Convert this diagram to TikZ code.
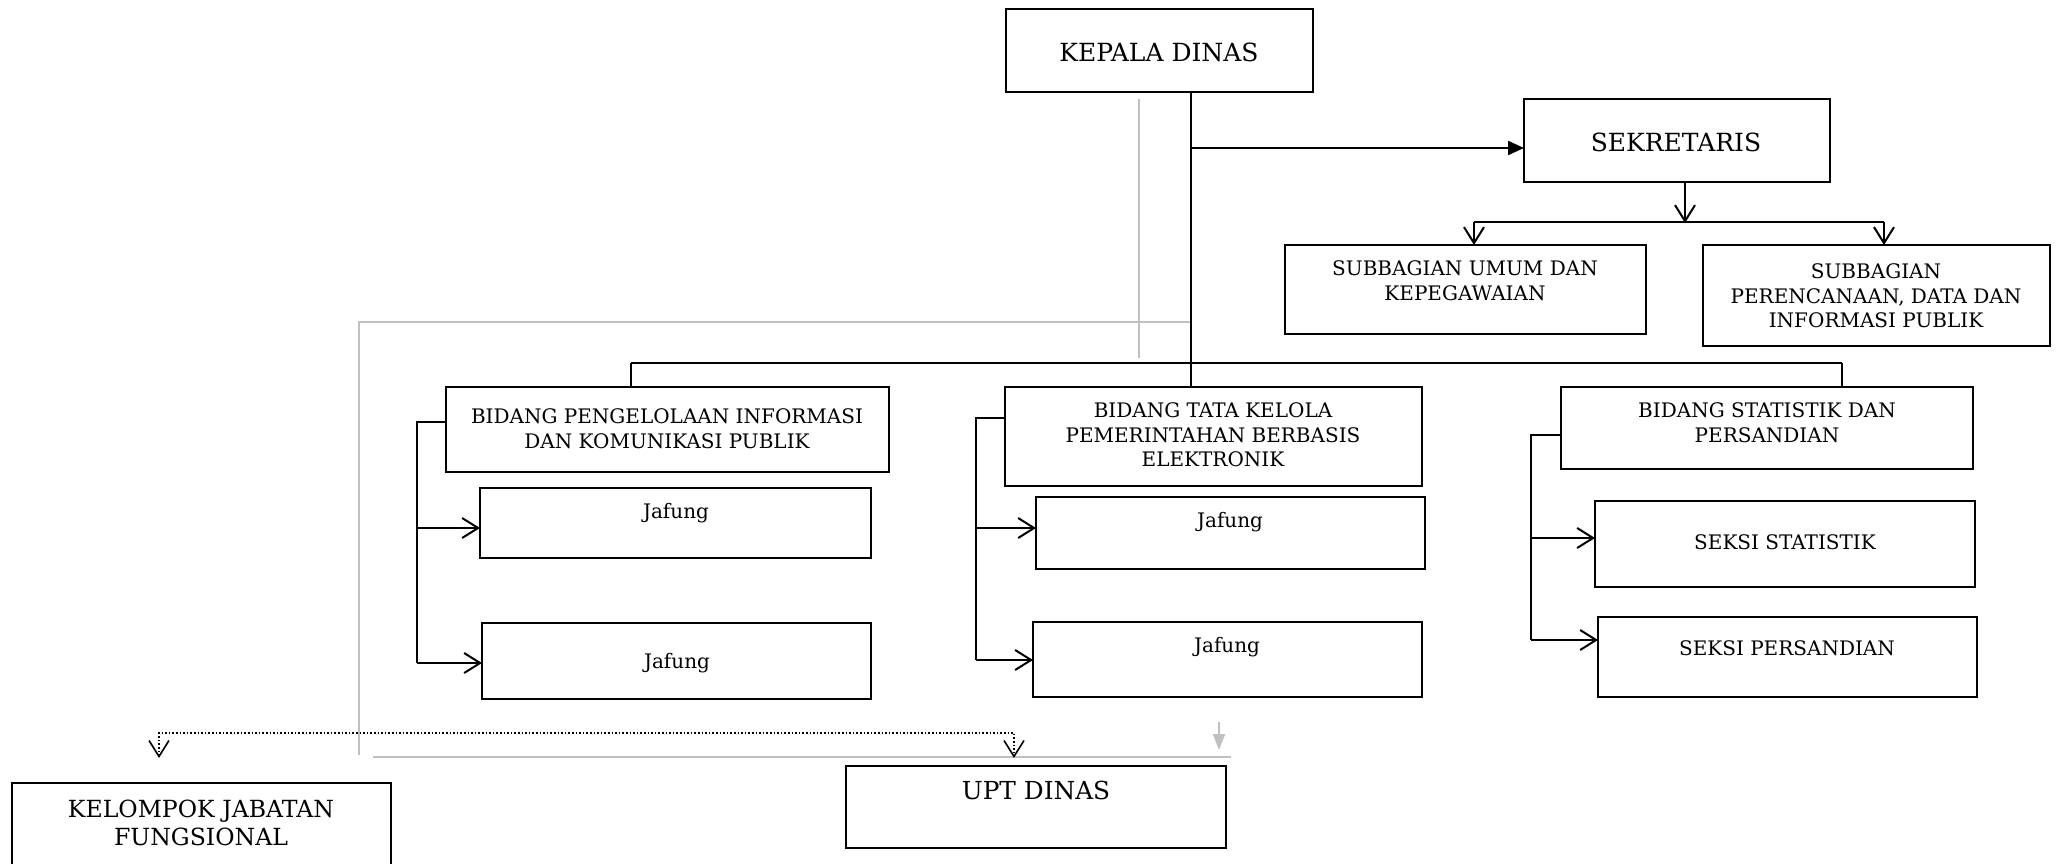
\documentclass[tikz,border=0pt]{standalone}
\usepackage{fontspec}
\setmainfont{DejaVu Serif}
\usetikzlibrary{arrows.meta}
\definecolor{glin}{HTML}{C0C0C0}
\newcommand\orgbox[5]{\node[box, minimum width={(#4-#2)*0.5pt}, minimum height={(#5-#3)*0.5pt}] (#1) at ({(#2+#4)/2},{(#3+#5)/2}) {};}
\begin{document}
\begin{tikzpicture}[x=0.5pt,y=-0.5pt,
  box/.style={draw, line width=1pt, inner sep=0pt, outer sep=0pt},
  txt/.style={align=center, inner sep=0pt, font=\fontsize{10}{12.3}\selectfont},
  big/.style={txt, font=\fontsize{12.5}{15}\selectfont},
  mid/.style={txt, font=\fontsize{11.8}{14}\selectfont},
  ln/.style={line width=1pt},
  barb/.style={ln, -{Straight Barb[length=8pt,width=10pt]}},
  gl/.style={draw=glin, line width=1pt},
  dotl/.style={line width=0.8pt, densely dotted}]
\useasboundingbox (0,0) rectangle (2056,863);
\clip (0,0) rectangle (2056,863);
% boxes
\orgbox{k}{1006}{9}{1313}{92}
\orgbox{s}{1524}{99}{1830}{182}
\orgbox{su}{1285}{245}{1646}{334}
\orgbox{sp}{1703}{245}{2050}{346}
\orgbox{b1}{446}{387}{889}{472}
\orgbox{j1}{480}{488}{871}{558}
\orgbox{j2}{482}{623}{871}{699}
\orgbox{b2}{1005}{387}{1422}{486}
\orgbox{j3}{1036}{497}{1425}{569}
\orgbox{j4}{1033}{622}{1422}{697}
\orgbox{b3}{1561}{387}{1973}{469}
\orgbox{ss}{1595}{501}{1975}{587}
\orgbox{sd}{1598}{617}{1977}{697}
\orgbox{kj}{12}{783}{391}{920}
\orgbox{u}{846}{766}{1226}{848}
% texts
\node[big] (tk) at (1159,52) {KEPALA DINAS};
\node[big] (ts) at (1676,142) {SEKRETARIS};
\node[txt] (tsu) at (1465,281) {SUBBAGIAN UMUM DAN\\KEPEGAWAIAN};
\node[txt] (tsp) at (1876,296) {SUBBAGIAN\\PERENCANAAN, DATA DAN\\INFORMASI PUBLIK};
\node[txt] (tb1) at (667,429) {BIDANG PENGELOLAAN INFORMASI\\DAN KOMUNIKASI PUBLIK};
\node[txt] (tj1) at (676,513) {Jafung};
\node[txt] (tj2) at (677,663) {Jafung};
\node[txt] (tb2) at (1213,435) {BIDANG TATA KELOLA\\PEMERINTAHAN BERBASIS\\ELEKTRONIK};
\node[txt] (tj3) at (1230,522) {Jafung};
\node[txt] (tj4) at (1227,647) {Jafung};
\node[txt] (tb3) at (1767,423) {BIDANG STATISTIK DAN\\PERSANDIAN};
\node[txt] (tss) at (1785,542) {SEKSI STATISTIK};
\node[txt] (tsd) at (1787,648) {SEKSI PERSANDIAN};
\node[mid] (tkj) at (201,823) {KELOMPOK JABATAN\\FUNGSIONAL};
\node[mid, font=\fontsize{12.4}{14}\selectfont] (tu) at (1036,790) {UPT DINAS};
% gray lines
\coordinate (g1) at (1139,99);
\coordinate (g2) at (1139,358);
\coordinate (g3) at (1191,322);
\coordinate (g4) at (359,322);
\coordinate (g5) at (359,755);
\coordinate (g6) at (373,757);
\coordinate (g7) at (1231,757);
\coordinate (g8) at (1219,722);
\coordinate (g9) at (1219,750);
\draw[gl] (g1) -- (g2);
\draw[gl] (g3) -- (g4) -- (g5);
\draw[gl] (g6) -- (g7);
\draw[gl, -{Triangle[length=8pt,width=6pt]}, fill=glin] (g8) -- (g9);
% trunk
\coordinate (t1) at (1191,148);
\coordinate (hb) at (1191,363);
\draw[ln] (k.south -| t1) -- (hb);
\draw[ln, -{Triangle[length=8pt,width=7pt]}] (t1) -- (t1 -| s.west);
% sekretaris branch
\coordinate (sj) at (1685,223);
\coordinate (sl) at (1474,222);
\coordinate (sr) at (1884,222);
\draw[barb] (s.south -| sj) -- (sj);
\draw[ln] (sl) -- (sr);
\draw[barb] (sl) -- (sl |- su.north);
\draw[barb] (sr) -- (sr |- sp.north);
% bidang branch
\coordinate (b1j) at (631,363);
\coordinate (b3j) at (1842,363);
\draw[ln] (b1j) -- (b3j);
\draw[ln] (b1j) -- (b1j |- b1.north);
\draw[ln] (hb) -- (hb |- b2.north);
\draw[ln] (b3j) -- (b3j |- b3.north);
% bracket 1
\coordinate (c1) at (417,422);
\coordinate (a1) at (417,528);
\coordinate (a2) at (417,663);
\draw[ln] (c1 -| b1.west) -- (c1) -- (a2);
\draw[barb] (a1) -- (a1 -| j1.west);
\draw[barb] (a2) -- (a2 -| j2.west);
% bracket 2
\coordinate (c2) at (976,418);
\coordinate (a3) at (976,528);
\coordinate (a4) at (976,660);
\draw[ln] (c2 -| b2.west) -- (c2) -- (a4);
\draw[barb] (a3) -- (a3 -| j3.west);
\draw[barb] (a4) -- (a4 -| j4.west);
% bracket 3
\coordinate (c3) at (1531,435);
\coordinate (a5) at (1531,538);
\coordinate (a6) at (1531,640);
\draw[ln] (c3 -| b3.west) -- (c3) -- (a6);
\draw[barb] (a5) -- (a5 -| ss.west);
\draw[barb] (a6) -- (a6 -| sd.west);
% dotted
\coordinate (d1) at (159,733);
\coordinate (d2) at (1014,733);
\coordinate (d3) at (159,758);
\coordinate (d4) at (1014,758);
\draw[dotl, {Straight Barb[length=8pt,width=10pt]}-{Straight Barb[length=8pt,width=10pt]}] (d3) -- (d1) -- (d2) -- (d4);
\end{tikzpicture}
\end{document}
